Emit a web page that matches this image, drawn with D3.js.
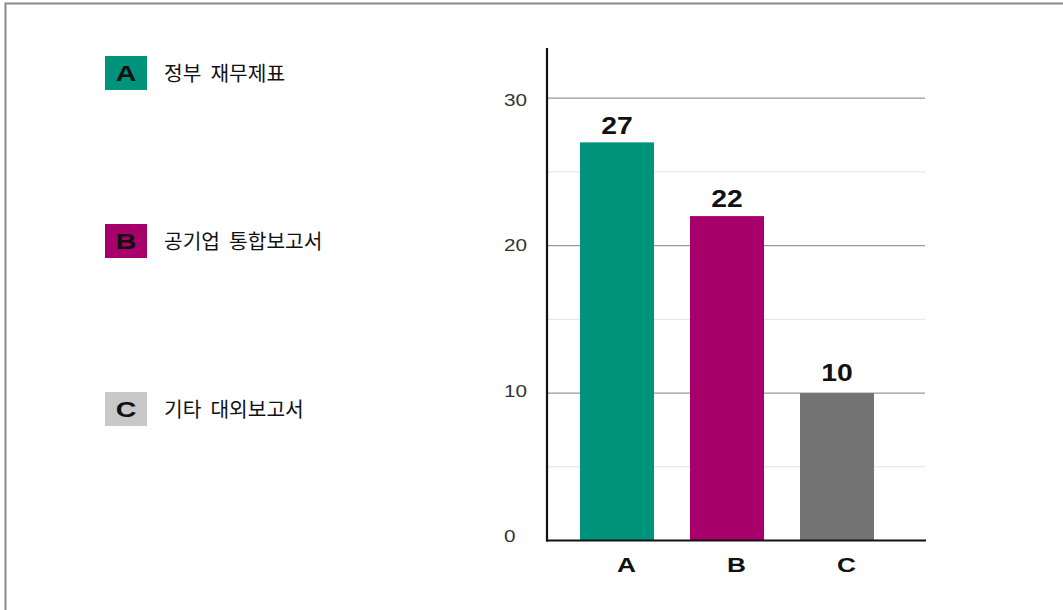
<!DOCTYPE html>
<html>
<head>
<meta charset="utf-8">
<script src="https://cdn.jsdelivr.net/npm/d3@7"></script>
<style>
html,body{margin:0;padding:0;background:#fff;}
svg{display:block;}
text{font-family:"Liberation Sans",Arial,sans-serif;}
</style>
</head>
<body>
<svg id="chart" width="1063" height="610"></svg>
<script>
const categories = ["A", "B", "C"];
const values = [27, 22, 10];
const legendLabels = ["정부  재무제표", "공기업  통합보고서", "기타  대외보고서"];
const barColors = ["#00937c", "#a8006a", "#737373"];
const legendColors = ["#00937c", "#a8006a", "#c8c8c8"];
const majorTicks = [0, 10, 20, 30];
const minorTicks = [5, 15, 25];

const svg = d3.select("#chart");

// frame
svg.append("path")
  .attr("d", "M5.5,610 L5.5,3.5 L1063,3.5")
  .attr("fill", "none").attr("stroke", "#888").attr("stroke-width", 2);

const y = d3.scaleLinear().domain([0, 33.4]).range([540.5, 48]);
const yLabel = d3.scaleLinear().domain([0, 30]).range([536, 99.5]);
const yValueLabel = d3.scaleLinear().domain([0, 30]).range([526.3, 90.4]);
const x = d3.scaleBand().domain(categories).range([562, 892])
  .paddingInner(0.327).paddingOuter(0.1636);

const gridX0 = 548, gridX1 = 925;
const SX = 1.22; // horizontal stretch of latin text in reference

// minor gridlines
svg.append("g").selectAll("line").data(minorTicks).join("line")
  .attr("x1", gridX0).attr("x2", gridX1)
  .attr("y1", d => y(d)).attr("y2", d => y(d))
  .attr("stroke", "#e2e2e2").attr("stroke-width", 1);

// major gridlines
svg.append("g").selectAll("line").data(majorTicks.filter(d => d > 0)).join("line")
  .attr("x1", gridX0).attr("x2", gridX1)
  .attr("y1", d => y(d)).attr("y2", d => y(d))
  .attr("stroke", "#999").attr("stroke-width", 1.2);

// tick labels
svg.append("g").selectAll("text").data(majorTicks).join("text")
  .attr("transform", d => `translate(504,${yLabel(d)}) scale(${SX},1)`)
  .attr("dy", "0.36em")
  .attr("font-size", 17).attr("fill", "#333")
  .text(d => d);

// bars
svg.append("g").selectAll("rect").data(values).join("rect")
  .attr("x", (d, i) => x(categories[i]))
  .attr("width", x.bandwidth())
  .attr("y", d => y(d))
  .attr("height", d => y(0) - y(d))
  .attr("fill", (d, i) => barColors[i]);

// value labels
svg.append("g").selectAll("text").data(values).join("text")
  .attr("transform", (d, i) => `translate(${x(categories[i]) + x.bandwidth() / 2},${yValueLabel(d)}) scale(1.18,1)`)
  .attr("text-anchor", "middle")
  .attr("font-size", 24).attr("font-weight", "bold").attr("fill", "#111")
  .text(d => d);

// axes lines
svg.append("line")
  .attr("x1", 547).attr("x2", 547).attr("y1", 48).attr("y2", 541.5)
  .attr("stroke", "#111").attr("stroke-width", 2.2);
svg.append("line")
  .attr("x1", 546).attr("x2", 926).attr("y1", 540.5).attr("y2", 540.5)
  .attr("stroke", "#111").attr("stroke-width", 2.2);

// x labels
svg.append("g").selectAll("text").data(categories).join("text")
  .attr("transform", d => `translate(${x(d) + x.bandwidth() / 2 + 9.5},572) scale(1.25,1)`)
  .attr("text-anchor", "middle")
  .attr("font-size", 21).attr("font-weight", "bold").attr("fill", "#111")
  .text(d => d);

// legend
const legendY = [56, 224, 392];
const lg = svg.append("g").selectAll("g").data(categories).join("g")
  .attr("transform", (d, i) => `translate(105,${legendY[i]})`);
lg.append("rect").attr("width", 42).attr("height", 34)
  .attr("fill", (d, i) => legendColors[i]);
lg.append("text")
  .attr("transform", "translate(21,17) scale(1.3,1)")
  .attr("dy", "0.36em")
  .attr("text-anchor", "middle")
  .attr("font-size", 22).attr("font-weight", "bold").attr("fill", "#111")
  .text(d => d);
lg.append("text").attr("x", 59).attr("y", 18).attr("dy", "0.36em")
  .attr("font-size", 20.3).attr("fill", "#111")
  .style("font-family", "'Noto Sans CJK KR', sans-serif")
  .style("white-space", "pre")
  .text((d, i) => legendLabels[i]);
</script>
</body>
</html>
